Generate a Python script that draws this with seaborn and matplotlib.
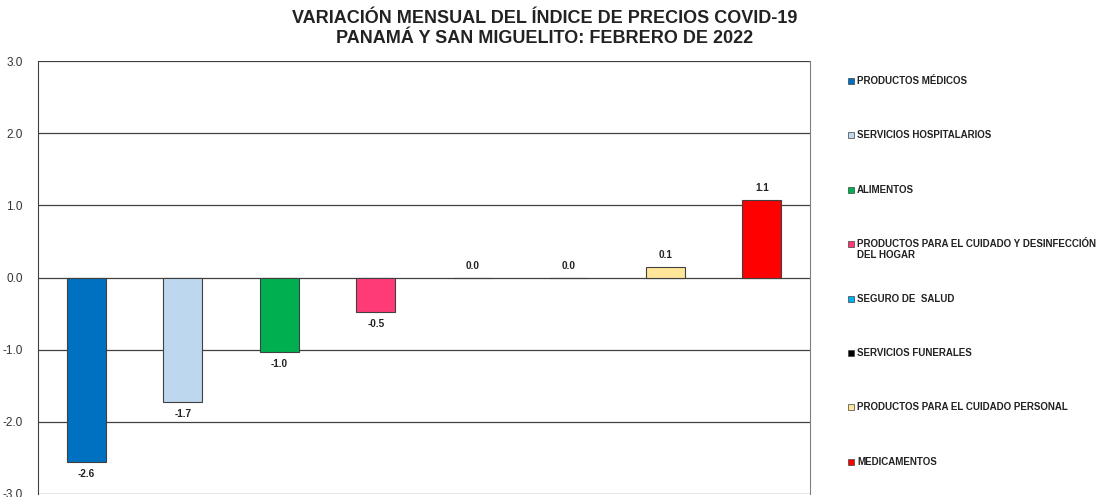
import pandas as pd
import numpy as np
import matplotlib.pyplot as plt
import seaborn as sns
from matplotlib.patches import Rectangle

categorias = ["PRODUCTOS MÉDICOS", "SERVICIOS HOSPITALARIOS", "ALIMENTOS",
              "PRODUCTOS PARA EL CUIDADO Y DESINFECCIÓN\nDEL HOGAR",
              "SEGURO DE  SALUD", "SERVICIOS FUNERALES",
              "PRODUCTOS PARA EL CUIDADO PERSONAL", "MEDICAMENTOS"]
variacion = [-2.56, -1.72, -1.03, -0.48, 0.0, 0.0, 0.14, 1.08]
colores = ["#0070C0", "#BDD7EE", "#00B050", "#FF3B77",
           "#00B0F0", "#000000", "#FFE699", "#FF0000"]
yticks = [-3.0, -2.0, -1.0, 0.0, 1.0, 2.0, 3.0]

sns.set_style("white")
plt.rcParams["font.family"] = ["Liberation Sans", "DejaVu Sans"]

df = pd.DataFrame({"cat": categorias, "val": variacion})

fig = plt.figure(figsize=(11.03, 4.97), dpi=100)
ax = fig.add_axes([38/1103, 3/497, (810-38)/1103, (494-61)/497])

sns.barplot(data=df, x="cat", y="val", hue="cat", palette=colores, saturation=1,
            width=0.4, legend=False, ax=ax, edgecolor="#404040", linewidth=0.8)

for c in ax.containers:
    ax.bar_label(c, fmt="%.1f", padding=5, fontsize=7.2, fontweight="bold", color="#222222")

ax.set_ylim(-3, 3)
ax.set_yticks(yticks)
ax.set_yticklabels([f"{t:.1f}" for t in yticks], fontsize=8.5, color="#333333")
ax.set_xticks([])
ax.set_xlabel("")
ax.set_ylabel("")
ax.tick_params(axis="y", length=0, pad=11)
ax.yaxis.grid(True, color="#404040", linewidth=0.9)
ax.set_axisbelow(True)
for s in ["top", "bottom"]:
    ax.spines[s].set_visible(False)
ax.spines["left"].set_color("#404040")
ax.spines["right"].set_color("#808080")

fig.suptitle("VARIACIÓN MENSUAL DEL ÍNDICE DE PRECIOS COVID-19\nPANAMÁ Y SAN MIGUELITO: FEBRERO DE 2022",
             x=545/1103, y=1-10/497, va="top", fontsize=13, fontweight="bold", color="#222222",
             linespacing=1.2)

# leyenda a la derecha
for i, (nombre, col) in enumerate(zip(categorias, colores)):
    yc = 1 - (81 + i * 54.4) / 497
    fig.patches.append(Rectangle((848/1103, yc - 3/497), 6/1103, 6/497,
                                 transform=fig.transFigure, facecolor=col,
                                 edgecolor="#404040", linewidth=0.5))
    fig.text(857/1103, yc + 5/497 if "\n" in nombre else yc, nombre, fontsize=7,
             fontweight="bold", color="#222222",
             va="top" if "\n" in nombre else "center", linespacing=1.1)

fig.savefig("out.png", dpi=100)
